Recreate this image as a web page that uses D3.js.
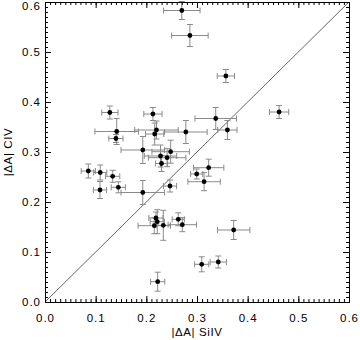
<!DOCTYPE html>
<html>
<head>
<meta charset="utf-8">
<script src="https://cdn.jsdelivr.net/npm/d3@7"></script>
<style>
  body { margin: 0; background: #fff; }
  svg { display: block; }
  .tick text { font-family: "Liberation Sans", Arial, sans-serif; font-size: 11.5px; letter-spacing: 1px; fill: #000; }
</style>
</head>
<body>
<div id="chart"></div>
<script>
// |dA| SiIV (x) and |dA| CIV (y), with errors
var siIV    = [0.270, 0.286, 0.357, 0.462, 0.128, 0.213, 0.337, 0.1415, 0.140, 0.220, 0.2165, 0.278, 0.360,
               0.193, 0.248, 0.228, 0.241, 0.230, 0.323, 0.0855, 0.109, 0.1336, 0.2994, 0.314, 0.1085, 0.1447,
               0.2467, 0.193, 0.219, 0.2216, 0.263, 0.2157, 0.2335, 0.271, 0.3724, 0.2224, 0.3093, 0.342];
var civ     = [0.583, 0.533, 0.452, 0.380, 0.379, 0.376, 0.367, 0.341, 0.327, 0.344, 0.336, 0.340, 0.344,
               0.304, 0.3006, 0.292, 0.2886, 0.277, 0.2686, 0.262, 0.259, 0.2514, 0.256, 0.2406, 0.224, 0.2294,
               0.232, 0.219, 0.168, 0.1606, 0.1654, 0.1526, 0.1534, 0.1546, 0.144, 0.0406, 0.0754, 0.080];
var siIVErr = [0.036, 0.036, 0.017, 0.019, 0.016, 0.018, 0.041, 0.043, 0.014, 0.043, 0.018, 0.042, 0.019,
               0.043, 0.037, 0.032, 0.037, 0.012, 0.030, 0.014, 0.013, 0.014, 0.012, 0.032, 0.013, 0.014,
               0.013, 0.043, 0.014, 0.014, 0.012, 0.032, 0.014, 0.028, 0.032, 0.014, 0.014, 0.016];
var civErr  = [0.018, 0.022, 0.013, 0.013, 0.013, 0.013, 0.022, 0.026, 0.008, 0.018, 0.022, 0.023, 0.019,
               0.027, 0.023, 0.022, 0.018, 0.016, 0.017, 0.014, 0.015, 0.012, 0.010, 0.018, 0.017, 0.011,
               0.012, 0.024, 0.012, 0.024, 0.013, 0.016, 0.030, 0.014, 0.019, 0.019, 0.015, 0.012];

var majorTicks = [0.0, 0.1, 0.2, 0.3, 0.4, 0.5, 0.6];
var minorTicks = d3.range(0, 61).map(function(i){ return i / 100; });
var xTitle = "|\u0394A|  SiIV";
var yTitle = "|\u0394A|  CIV";

var width = 360, height = 340;
var marginLeft = 45, plotRight = 349, plotTop = 2, plotBottom = 302;
var majorLen = 6, minorLen = 3;

var points = siIV.map(function(d, i){
    return { x: d, y: civ[i], ex: siIVErr[i], ey: civErr[i] };
});

var x = d3.scaleLinear().domain([0, 0.6]).range([marginLeft, plotRight]);
var y = d3.scaleLinear().domain([0, 0.6]).range([plotBottom, plotTop]);

var svg = d3.select("#chart").append("svg")
            .attr("width", width)
            .attr("height", height);

// diagonal 1:1 line
svg.append("line")
    .attr("x1", x(0)).attr("y1", y(0))
    .attr("x2", x(0.6)).attr("y2", y(0.6))
    .attr("stroke", "#555")
    .attr("stroke-width", 0.9);

// error bars
var errColor = "#8a8a8a";
var cap = 3;
var eb = svg.append("g").attr("class", "errors")
            .attr("stroke", errColor).attr("stroke-width", 1).attr("fill", "none");

points.forEach(function(p){
    var cx = x(p.x), cy = y(p.y);
    var x0 = x(p.x - p.ex), x1 = x(p.x + p.ex);
    var y0 = y(p.y - p.ey), y1 = y(p.y + p.ey);
    eb.append("line").attr("x1", x0).attr("x2", x1).attr("y1", cy).attr("y2", cy);
    eb.append("line").attr("x1", x0).attr("x2", x0).attr("y1", cy - cap).attr("y2", cy + cap);
    eb.append("line").attr("x1", x1).attr("x2", x1).attr("y1", cy - cap).attr("y2", cy + cap);
    eb.append("line").attr("x1", cx).attr("x2", cx).attr("y1", y0).attr("y2", y1);
    eb.append("line").attr("x1", cx - cap).attr("x2", cx + cap).attr("y1", y0).attr("y2", y0);
    eb.append("line").attr("x1", cx - cap).attr("x2", cx + cap).attr("y1", y1).attr("y2", y1);
});

svg.append("g").selectAll("circle")
    .data(points)
    .enter()
    .append("circle")
    .attr("cx", function(d){ return x(d.x); })
    .attr("cy", function(d){ return y(d.y); })
    .attr("r", 2.4)
    .attr("fill", "#000");

// axes, ticks pointing inward on all four sides
function styleAxis(g){
    g.select(".domain").attr("stroke", "#000").attr("stroke-width", 1);
    g.selectAll(".tick line").attr("stroke", "#000").attr("stroke-width", 1);
}

var fmt = d3.format(".1f");

svg.append("g").attr("transform", "translate(0," + plotBottom + ")")
    .call(d3.axisBottom(x).tickValues(minorTicks).tickSize(-minorLen).tickFormat("").tickSizeOuter(0))
    .call(styleAxis);
svg.append("g").attr("transform", "translate(0," + plotBottom + ")")
    .call(d3.axisBottom(x).tickValues(majorTicks).tickSize(-majorLen).tickPadding(12).tickFormat(fmt).tickSizeOuter(0))
    .call(styleAxis);

svg.append("g").attr("transform", "translate(0," + plotTop + ")")
    .call(d3.axisTop(x).tickValues(minorTicks).tickSize(-minorLen).tickFormat("").tickSizeOuter(0))
    .call(styleAxis);
svg.append("g").attr("transform", "translate(0," + plotTop + ")")
    .call(d3.axisTop(x).tickValues(majorTicks).tickSize(-majorLen).tickFormat("").tickSizeOuter(0))
    .call(styleAxis);

svg.append("g").attr("transform", "translate(" + marginLeft + ",0)")
    .call(d3.axisLeft(y).tickValues(minorTicks).tickSize(-minorLen).tickFormat("").tickSizeOuter(0))
    .call(styleAxis);
var yAxisG = svg.append("g").attr("transform", "translate(" + marginLeft + ",0)")
    .call(d3.axisLeft(y).tickValues(majorTicks).tickSize(-majorLen).tickPadding(4).tickFormat(fmt).tickSizeOuter(0))
    .call(styleAxis);
// top label sits just inside the picture, as in the original
yAxisG.selectAll(".tick text").filter(function(d){ return d === 0.6; }).attr("dy", "0.32em").attr("y", 4);

svg.append("g").attr("transform", "translate(" + plotRight + ",0)")
    .call(d3.axisRight(y).tickValues(minorTicks).tickSize(-minorLen).tickFormat("").tickSizeOuter(0))
    .call(styleAxis);
svg.append("g").attr("transform", "translate(" + plotRight + ",0)")
    .call(d3.axisRight(y).tickValues(majorTicks).tickSize(-majorLen).tickFormat("").tickSizeOuter(0))
    .call(styleAxis);

// axis titles
svg.append("text")
    .attr("x", (marginLeft + plotRight) / 2)
    .attr("y", 336)
    .attr("text-anchor", "middle")
    .attr("font-family", "Liberation Sans, Arial, sans-serif")
    .attr("font-size", "11.5px")
    .attr("letter-spacing", "0.6px")
    .text(xTitle);

svg.append("text")
    .attr("transform", "translate(12," + ((plotTop + plotBottom) / 2) + ") rotate(-90)")
    .attr("text-anchor", "middle")
    .attr("font-family", "Liberation Sans, Arial, sans-serif")
    .attr("font-size", "11.5px")
    .attr("letter-spacing", "0.6px")
    .text(yTitle);
</script>
</body>
</html>
